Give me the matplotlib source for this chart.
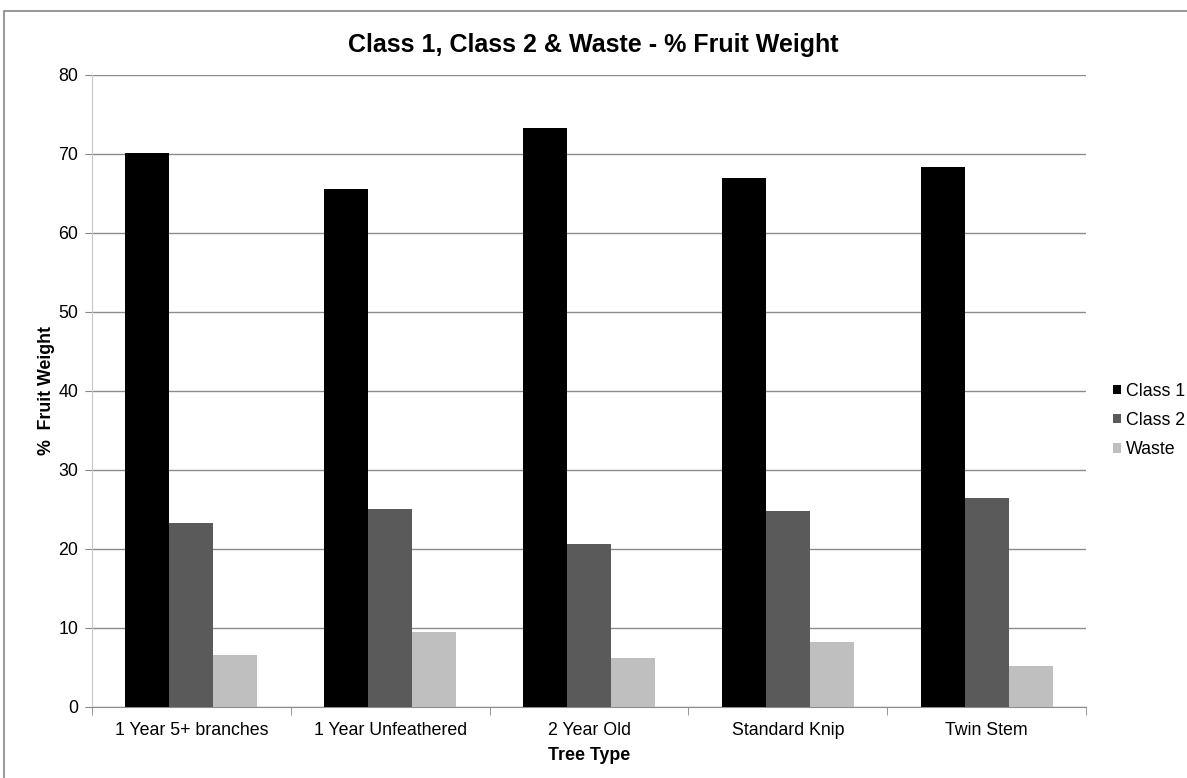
import matplotlib.pyplot as plt
import numpy as np
from matplotlib.patches import Rectangle

plt.rcParams['font.family'] = ['Liberation Sans', 'DejaVu Sans']

tree_types = ['1 Year 5+ branches', '1 Year Unfeathered', '2 Year Old',
              'Standard Knip', 'Twin Stem']
class1 = [70.1, 65.5, 73.3, 66.9, 68.4]
class2 = [23.2, 25.0, 20.6, 24.8, 26.4]
waste = [6.6, 9.5, 6.1, 8.2, 5.2]

series = [('Class 1', class1, '#000000'),
          ('Class 2', class2, '#5a5a5a'),
          ('Waste', waste, '#bfbfbf')]

fig = plt.figure(figsize=(11.87, 7.78), dpi=100)
ax = fig.add_axes([0.0775, 0.0917, 0.8375, 0.8119])

# chart border
fig.patches.append(Rectangle((4 / 1187, -0.05), 1.1, 1 - 11 / 778 + 0.05,
                             transform=fig.transFigure, fill=False,
                             edgecolor='#868686', linewidth=1.2))

x = np.arange(len(tree_types))
w = 0.221
for i, (name, vals, col) in enumerate(series):
    ax.bar(x + (i - 1) * w, vals, w, color=col, label=name, zorder=3)

ax.set_xlim(-0.5, len(tree_types) - 0.5)
ax.set_ylim(0, 80)
ax.set_yticks(range(0, 81, 10))
ax.set_xticks(x)
ax.set_xticklabels(tree_types)
ax.set_xticks(np.arange(-0.5, len(tree_types)), minor=True)
ax.tick_params(axis='x', which='major', length=0, pad=11, labelsize=12.8)
ax.tick_params(axis='x', which='minor', length=6, color='#868686')
ax.tick_params(axis='y', length=5, color='#868686', labelsize=12.8, pad=5)

ax.grid(axis='y', color='#8c8c8c', linewidth=1, zorder=0)
for s in ['top', 'right']:
    ax.spines[s].set_visible(False)
ax.spines['left'].set_color('#c8c8c8')
ax.spines['bottom'].set_color('#8c8c8c')

ax.set_xlabel('Tree Type', fontsize=12.8, fontweight='bold', labelpad=6)
ax.set_ylabel('%  Fruit Weight', fontsize=12.8, fontweight='bold', labelpad=2)
fig.suptitle('Class 1, Class 2 & Waste - % Fruit Weight', fontsize=18,
             fontweight='bold', y=0.958)

ax.legend(loc='center left', bbox_to_anchor=(0.027, 0.453),
          bbox_transform=ax.transAxes, frameon=False, borderpad=0,
          borderaxespad=0, fontsize=12.8, handlelength=0.45,
          handleheight=0.45, handletextpad=0.3, labelspacing=0.68)
ax.get_legend().set_bbox_to_anchor((1.027, 0.453), transform=ax.transAxes)

fig.savefig('out.png', dpi=100)
